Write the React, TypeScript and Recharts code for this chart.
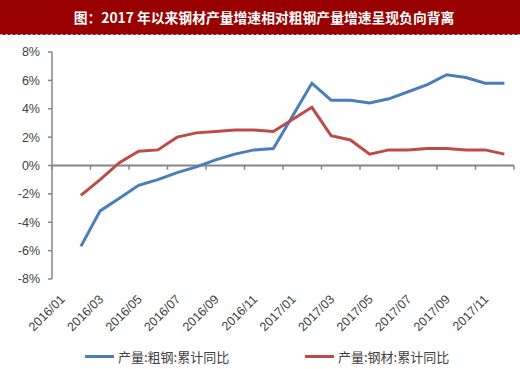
import { LineChart, Line, XAxis, YAxis, ReferenceLine } from 'recharts';

const months = [
  '2016/01', '2016/02', '2016/03', '2016/04', '2016/05', '2016/06', '2016/07', '2016/08',
  '2016/09', '2016/10', '2016/11', '2016/12', '2017/01', '2017/02', '2017/03', '2017/04',
  '2017/05', '2017/06', '2017/07', '2017/08', '2017/09', '2017/10', '2017/11', '2017/12',
];
// 粗钢 / 钢材 累计同比 (%), 1月数据缺失
const crudeSteel = [null, -5.7, -3.2, -2.3, -1.4, -1.0, -0.5, -0.1, 0.4, 0.8, 1.1, 1.2,
  null, 5.8, 4.6, 4.6, 4.4, 4.7, 5.2, 5.7, 6.4, 6.2, 5.8, 5.8];
const steelProducts = [null, -2.1, -1.0, 0.2, 1.0, 1.1, 2.0, 2.3, 2.4, 2.5, 2.5, 2.4,
  null, 4.1, 2.1, 1.8, 0.8, 1.1, 1.1, 1.2, 1.2, 1.1, 1.1, 0.8];
const yTicks = [-8, -6, -4, -2, 0, 2, 4, 6, 8];
const labelTicks = months.map((_, i) => i + 0.5).filter((_, i) => i % 2 === 0);
const boundaryTicks = months.map((_, i) => i).filter((i) => i % 2 === 0).concat(months.length);

const series = [
  { key: 'crude', name: '产量:粗钢:累计同比', color: '#4A7EBB' },
  { key: 'steel', name: '产量:钢材:累计同比', color: '#BE4B48' },
];

const data = months.map((m, i) => ({ x: i + 0.5, month: m, crude: crudeSteel[i], steel: steelProducts[i] }));

const axisColor = '#868686';
const textColor = '#404040';
const latin = '"Liberation Sans", Arial, sans-serif';
const cjk = '"Noto Sans CJK SC", sans-serif';

function MonthTick(props: any) {
  const { x, y, payload } = props;
  const label = months[Math.floor(payload.value)];
  const px = x + 4;
  const py = y + 13;
  return (
    <text x={px} y={py} transform={`rotate(-45, ${px}, ${py})`} textAnchor="end"
      fontSize={12.5} fill={textColor} fontFamily={latin}>
      {label}
    </text>
  );
}

export default function App() {
  return (
    <div style={{ position: 'absolute', left: 0, top: 0, width: 520, height: 369, background: '#fff' }}>
      <div style={{
        position: 'absolute', left: 0, top: 0, width: 520, height: 35, background: '#990000',
        borderBottom: '1px dashed #8fa8d8', boxSizing: 'border-box', color: '#fff',
        fontFamily: cjk, fontWeight: 700, fontSize: 13.8, lineHeight: '34px', textAlign: 'center',
        paddingLeft: 8,
      }}>
        图：2017 年以来钢材产量增速相对粗钢产量增速呈现负向背离
      </div>
      <div style={{ position: 'absolute', left: 0, top: 0 }}>
        <LineChart width={520} height={369} data={data} margin={{ top: 52, right: 6, bottom: 30, left: 0 }}>
          <XAxis dataKey="x" type="number" domain={[0, months.length]} ticks={labelTicks}
            axisLine={false} tickLine={false} height={60} tick={<MonthTick />} interval={0} />
          <YAxis domain={[-8, 8]} ticks={yTicks} width={52} tickFormatter={(v) => `${v}%`}
            axisLine={{ stroke: axisColor, strokeWidth: 1.5 }} tickLine={{ stroke: axisColor, strokeWidth: 1.5 }}
            tickSize={4} tickMargin={8} tick={{ fontSize: 12.5, fill: textColor, fontFamily: latin }} />
          <ReferenceLine y={0} stroke={axisColor} strokeWidth={2} />
          {boundaryTicks.map((b) => (
            <ReferenceLine key={b} segment={[{ x: b, y: 0 }, { x: b, y: -0.3 }]} stroke={axisColor} strokeWidth={1.5} />
          ))}
          {series.map((s) => (
            <Line key={s.key} dataKey={s.key} name={s.name} stroke={s.color} strokeWidth={3}
              dot={false} connectNulls isAnimationActive={false} type="linear" />
          ))}
        </LineChart>
      </div>
      {series.map((s, i) => (
        <div key={s.key} style={{
          position: 'absolute', left: i === 0 ? 85 : 305, top: 347, height: 18, display: 'flex',
          alignItems: 'center', fontFamily: cjk, fontSize: 13, color: textColor,
        }}>
          <span style={{ display: 'inline-block', width: 29, height: 3, background: s.color, marginRight: 4 }} />
          {s.name}
        </div>
      ))}
    </div>
  );
}
